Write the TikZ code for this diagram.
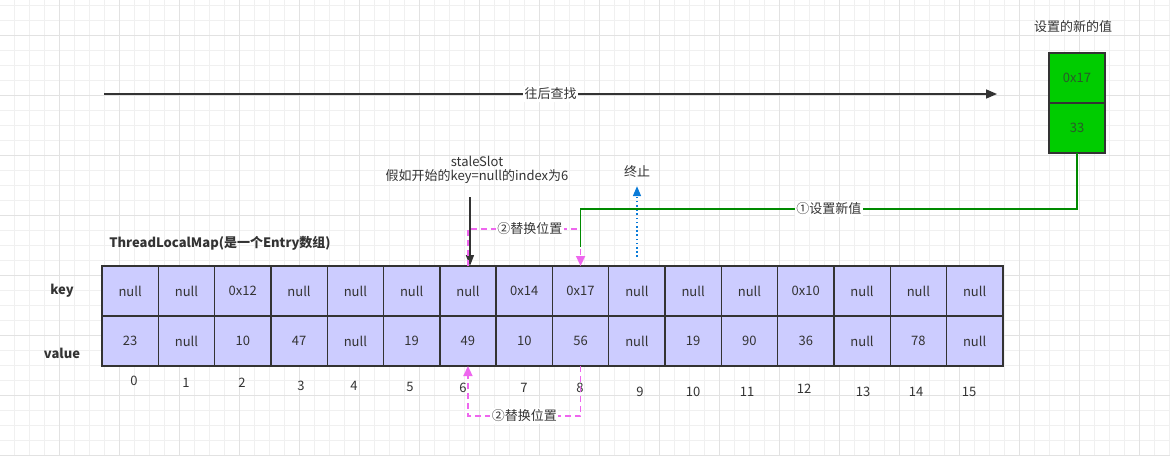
\documentclass[tikz,border=0pt]{standalone}
\usepackage{fontspec}
\setmainfont{Noto Sans CJK SC}
\usetikzlibrary{arrows.meta,calc}
\definecolor{gridminor}{HTML}{F0F0F0}
\definecolor{gridmajor}{HTML}{E2E2E2}
\definecolor{ink}{HTML}{333333}
\definecolor{cellfill}{HTML}{CCCCFF}
\definecolor{newfill}{HTML}{00CC00}
\definecolor{newtext}{HTML}{2A5A2A}
\definecolor{linkgreen}{HTML}{008A00}
\definecolor{swappink}{HTML}{EE66EE}
\definecolor{stopblue}{HTML}{0A7BD8}
\tikzset{
  cellbox/.style={draw=ink, line width=1.4pt, fill=cellfill, text=ink,
    minimum width=56.3pt, minimum height=50pt, inner sep=0pt, outer sep=0pt,
    font=\fontsize{13}{15}\selectfont},
  newbox/.style={draw=ink, line width=1.4pt, fill=newfill, text=newtext,
    minimum width=56pt, minimum height=50pt, inner sep=0pt, outer sep=0pt,
    font=\fontsize{13}{15}\selectfont},
  txt/.style={text=ink, font=\fontsize{13}{15}\selectfont, inner sep=1pt},
  boldtxt/.style={text=ink, font=\fontsize{13}{15}\selectfont\bfseries, inner sep=1pt},
  lbl/.style={text=ink, font=\fontsize{13}{15}\selectfont, fill=white, inner sep=1.5pt},
  idx/.style={text=ink, font=\fontsize{13}{15}\selectfont, inner sep=0pt},
  searchline/.style={draw=ink, line width=1.6pt, -{Triangle[length=11pt,width=9pt]}},
  staleline/.style={draw=ink, line width=1.6pt, -{Triangle[length=11pt,width=8pt]}},
  swapline/.style={draw=swappink, line width=1.5pt, dash pattern=on 6pt off 4pt,
    -{Triangle[length=10pt,width=9pt]}},
  greenline/.style={draw=linkgreen, line width=1.6pt},
  stopline/.style={draw=stopblue, line width=1.6pt, dash pattern=on 1.6pt off 2.6pt,
    -{Triangle[length=10pt,width=8pt]}},
}
\begin{document}
\begin{tikzpicture}[x=1pt,y=-1pt]
\useasboundingbox (0,0) rectangle (1170,456);
\fill[white] (0,0) rectangle (1170,456);
% grid
\foreach \i in {0,...,77} \draw[gridminor, line width=0.8pt] ({14.3+15*\i},0) -- ({14.3+15*\i},456);
\foreach \i in {0,...,30} \draw[gridminor, line width=0.8pt] (0,{5+15*\i}) -- (1170,{5+15*\i});
\foreach \i in {0,...,18} \draw[gridmajor, line width=0.9pt] ({59.3+60*\i},0) -- ({59.3+60*\i},456);
\foreach \i in {0,...,7} \draw[gridmajor, line width=0.9pt] (0,{35+60*\i}) -- (1170,{35+60*\i});

% array cells
\foreach \k/\v [count=\i from 0] in {null/23,null/null,0x12/10,null/47,null/null,null/19,null/49,0x14/10,0x17/56,null/null,null/19,null/90,0x10/36,null/null,null/78,null/null}{
  \node[cellbox] (k\i) at ({102+56.3*\i+28.15},291) {\k};
  \node[cellbox] (v\i) at ({102+56.3*\i+28.15},341) {\v};
}
% indices
\foreach \x/\y [count=\i from 0] in {134/381,186/383,242/383,301/386,354/386,410/387,463/388,524/388,580/388,640/392,693/392,747/392,804/389,863/392,916/392,969/392}{
  \node[idx] (n\i) at (\x,\y) {\i};
}
\node[boldtxt] (keylbl) at (62,291) {key};
\node[boldtxt] (vallbl) at (62,353) {value};
\node[boldtxt] (title) at (220,243) {ThreadLocalMap(是一个Entry数组)};

% search arrow
\coordinate (s0) at (104,94);
\coordinate (s1) at (997,94);
\draw[searchline] (s0) -- node[lbl, pos=0.5] (searchlbl) {往后查找} (s1);

% new value box
\node[txt] (newtitle) at (1073,27) {设置的新的值};
\node[newbox] (g1) at (1077,78) {0x17};
\node[newbox] (g2) at (1077,128) {33};

% staleSlot
\node[txt, align=center] (stale) at (477,170) {staleSlot\\[-1pt]假如开始的key=null的index为6};
\draw[staleline] ($(k6.north)+(2,-69)$) -- ($(k6.north)+(2,0)$);

% stop
\node[txt] (stop) at (637,172) {终止};
\coordinate (stopstart) at (637,257);
\draw[stopline] (stopstart) -- ($(stop.south)+(0,7)$);

% swap top
\coordinate (swt) at (0,229);
\draw[swapline] (k6.north) -- (k6.north |- swt) -- node[lbl, pos=0.55] (swaplbl1) {②替换位置} (k8.north |- swt) -- (k8.north);
% swap bottom
\coordinate (swb) at (0,416);
\draw[swapline] (v8.south) -- (v8.south |- swb) -- node[lbl, pos=0.5] (swaplbl2) {②替换位置} (v6.south |- swb) -- (v6.south);

% set new value
\coordinate (gy) at (0,209);
\coordinate (gend) at ($(k8.north)+(0,-19)$);
\draw[greenline] (g2.south) -- (g2.south |- gy) -- node[lbl, pos=0.5] (setlbl) {①设置新值} (k8.north |- gy) -- (gend);
\end{tikzpicture}
\end{document}
